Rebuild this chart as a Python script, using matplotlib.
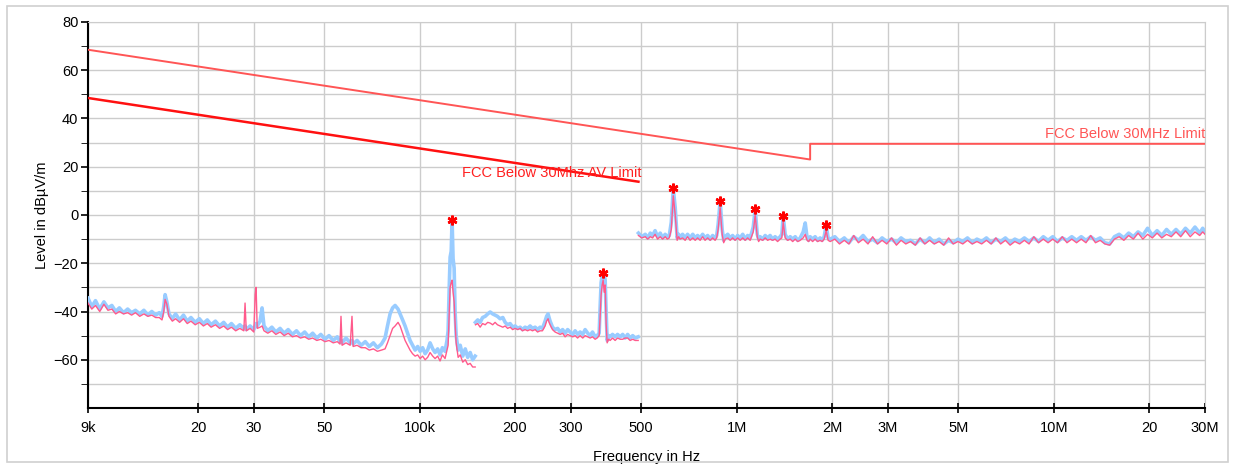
import numpy as np
import matplotlib.pyplot as plt
from matplotlib.patches import Rectangle
from matplotlib.ticker import NullLocator

plt.rcParams['font.family'] = ['Liberation Sans', 'DejaVu Sans']

# --- limit lines (frequency in kHz, level in dBuV/m) ---
qp_freq = [9, 490, 1705, 1705, 30000]
qp_level = [68.5, 33.8, 23.0, 29.5, 29.5]
av_freq = [9, 490]
av_level = [48.5, 13.8]

# --- measured traces, 9 kHz - 150 kHz ---
f1 = [9.0, 9.25, 9.5, 9.8, 10.1, 10.4, 10.7, 11.0, 11.3, 11.65,
      12.0, 12.35, 12.7, 13.1, 13.5, 13.9, 14.3, 14.7, 15.1, 15.4,
      15.6, 15.75, 15.95, 16.2, 16.6, 17.0, 17.5, 18.0, 18.5, 19.0,
      19.6, 20.2, 20.8, 21.4, 22.0, 22.7, 23.4, 24.1, 24.8, 25.5,
      26.3, 27.1, 27.9, 28.15, 28.4, 29.2, 30.0, 30.3, 30.5, 30.75,
      31.4, 31.85, 32.3, 33.2, 34.2, 35.2, 36.3, 37.4, 38.5, 39.7,
      40.9, 42.1, 43.4, 44.7, 46.0, 47.4, 48.8, 50.3, 51.8, 53.4,
      55.0, 56.1, 56.5, 56.95, 58.6, 60.4, 61.2, 61.7, 63.5, 65.4,
      67.4, 69.4, 71.5, 73.6, 75.8, 77.8, 79.2, 80.7, 82.2, 83.7,
      85.5, 86.8, 88.4, 90.0, 91.6, 93.3, 95.0, 96.8, 98.6, 100.4,
      102.2, 104.1, 106.0, 107.9, 110.0, 111.9, 114.0, 116.0, 118.0, 120.3,
      122.0, 123.0, 124.0, 124.8, 125.8, 126.6, 127.5, 128.5, 129.4, 130.4,
      132.3, 134.3, 136.8, 139.3, 141.8, 144.4, 147.0, 149.7]
blue1 = [-34.5, -38, -35.5, -39, -36, -38.5, -37.5, -40, -38.5, -40.5,
         -39, -40.5, -39.5, -41, -39.5, -41.5, -40, -41.5, -40.5, -42,
         -38, -33, -36, -41, -43, -41, -43.5, -41.5, -44, -42.5,
         -44.5, -43, -45, -43.5, -45.5, -44, -46, -44.5, -46.5, -45,
         -47, -45.5, -47, -46, -47.5, -46, -47.5, -46, -45, -46,
         -44, -38.5, -46, -48, -46.5, -48.5, -47, -49, -47.5, -49.5,
         -48, -50, -48.5, -50.5, -49, -51, -49.5, -51.5, -50, -52,
         -50.5, -52.5, -52, -53, -51, -53, -52, -53.5, -52, -54,
         -52.5, -54.5, -53, -55, -53.5, -51, -46, -41, -38.5, -37.5,
         -39, -41, -43.5, -46, -49, -52, -54, -56, -54.5, -56.5,
         -55, -57.5, -56, -53, -55.5, -57, -55.5, -58, -55, -56.5,
         -52, -48, -30, -17.5, -15, -2, -18, -22, -40, -50,
         -56, -54, -58.5, -55.5, -59, -57, -60, -58.5]
pink1 = [-36.5, -39, -37.5, -40, -37, -39.5, -39, -41, -40, -41,
         -40.5, -41.5, -40.5, -42, -41, -42, -41.5, -42.5, -42.5, -43.5,
         -40, -35, -37, -42, -44, -43, -44.5, -43, -45, -44,
         -45.5, -44.5, -46, -45, -46.5, -45.5, -47, -46, -47.5, -46.5,
         -48, -47, -48, -36.5, -48, -47, -48.5, -33, -30, -47,
         -46.5, -46, -48, -49, -48, -49.5, -48.5, -50, -49, -50.5,
         -50, -51, -50.5, -51.5, -51, -52, -51.5, -52.5, -52, -53,
         -52.5, -53.5, -42, -54, -53, -54, -42, -54.5, -54, -55,
         -55, -56, -55.5, -56.5, -56, -55.5, -53, -50, -47, -46,
         -44.5, -46, -49, -52, -54, -56, -57.5, -58.5, -58, -59.5,
         -58.5, -60, -59, -57, -58.5, -59.5, -58.5, -60.5, -58, -59.5,
         -56, -54, -40, -30, -28, -27, -32, -36, -45, -53,
         -59, -58, -61, -60, -62, -61.5, -63, -63]

# --- measured traces, 150 kHz - 490 kHz ---
f2 = [150, 152.5, 155.2, 158, 161, 164, 166.9, 170, 173, 176,
      179.4, 183, 186.1, 189.5, 193, 196.5, 200.1, 204, 207.5, 211,
      215.1, 219, 223.1, 227, 231.4, 235.5, 239.9, 244, 248.8, 251.5,
      254.2, 256, 258, 262.5, 267.5, 272.5, 277.5, 282.5, 287.7, 293,
      298.3, 304, 309.4, 315, 320.8, 327, 332.7, 339, 345, 351,
      357.8, 363, 368.4, 371, 373.7, 376.5, 379.2, 382, 384.8, 387.5,
      390.4, 394.5, 399, 406, 413.7, 421, 429.1, 437, 444.9, 453,
      461.3, 470, 478.4, 489]
blue2 = [-44.5, -43.5, -44.5, -42.5, -42, -41, -40.2, -41, -41.5, -42,
         -43, -42.5, -44.5, -45.5, -45, -46.5, -46, -47, -46.5, -47.5,
         -46.5, -47, -46, -47, -46.5, -47.5, -46.5, -47, -44, -42,
         -41, -42.5, -44, -46.5, -47.5, -47, -48.5, -47.5, -49, -47.5,
         -48.5, -49.5, -48, -49.5, -48.5, -49.5, -47.5, -49, -50, -48.5,
         -50.5, -50, -49, -38, -28, -25, -24, -24.5, -27, -40,
         -52, -50, -50.5, -49.5, -50.5, -49.5, -50.5, -49.5, -51, -49.5,
         -51, -50, -51, -50.5]
pink2 = [-45.5, -45, -46.5, -45, -45.5, -44.5, -44.8, -45.5, -44.5, -45.5,
         -46, -46.5, -46, -47, -46.5, -47.5, -47, -47.5, -47, -48,
         -47.5, -48, -47.5, -48, -47.5, -48.5, -48, -48, -46, -44,
         -43, -44.5, -45.5, -47.5, -48.5, -49, -49.5, -49, -50.5, -49.5,
         -50, -50.5, -50, -51, -50, -51, -50, -50.5, -51, -50.5,
         -51.5, -51, -50, -42, -33, -29, -27, -32, -29, -45,
         -53, -51.5, -52, -51, -52, -51, -51.5, -51.5, -51, -51,
         -52, -51.5, -52, -52]

# --- measured traces, 490 kHz - 30 MHz ---
f3 = [490, 502, 515, 524, 534, 543, 553, 563, 574, 584,
      595, 604, 613, 622, 631, 640, 649, 656, 663, 675,
      688, 700, 713, 727, 740, 753, 767, 781, 795, 810,
      825, 840, 855, 865, 874, 887, 900, 910, 920, 937,
      954, 971, 989, 1007, 1026, 1045, 1064, 1083, 1103, 1128,
      1144, 1161, 1173, 1186, 1208, 1230, 1252, 1275, 1298, 1322,
      1346, 1371, 1388, 1402, 1422, 1448, 1475, 1502, 1530, 1558,
      1586, 1621, 1645, 1668, 1686, 1705, 1736, 1768, 1800, 1833,
      1860, 1888, 1915, 1943, 1972,
      2040, 2110, 2185, 2260, 2340, 2420, 2505, 2595, 2685, 2780,
      2875, 2975, 3080, 3190, 3300, 3415, 3535, 3660, 3790, 3920,
      4060, 4200, 4350, 4500, 4660, 4820, 4990, 5165, 5345, 5535,
      5725, 5925, 6135, 6350, 6570, 6800, 7040, 7285, 7540, 7805,
      8080, 8360, 8655, 8955, 9270, 9595, 9930, 10280, 10640, 11010,
      11400, 11800, 12210, 12640, 13080, 13540, 14010, 14500, 15010, 15540,
      16080, 16640, 17230, 17830, 18450, 19100, 19770, 20460, 21180, 21920,
      22690, 23480, 24300, 25150, 26030, 26950, 27890, 28860, 29500, 30000]
blue3 = [-7.5, -9, -8, -9.5, -7.5, -8.5, -6.5, -9, -7.5, -9.5,
         -8, -9, -8.5, -3, 11, 3, -9.5, -8, -9.5, -8,
         -9.5, -8, -9.5, -8, -9.5, -8.5, -9.5, -8, -9.5, -8.5,
         -10, -8.5, -9.5, -8.5, -4, 5.8, -6, -10.5, -9, -8,
         -9.5, -8.5, -10, -8.5, -9.5, -8, -10, -8.5, -9.5, -5,
         2.5, -8, -10, -9, -10, -8.5, -9.5, -8.5, -10, -9,
         -10, -9, -8, -0.4, -8, -10, -9, -10, -9, -10.5,
         -9.5, -7, -3.3, -9.5, -10.5, -9, -10, -9, -10.5, -9.5,
         -10.5, -9, -4.2, -9.5, -10,
         -9, -11, -9.5, -11.5, -9, -10.5, -8.5, -11, -10, -11.5,
         -9.5, -11, -10, -11.5, -9.5, -11, -10.5, -12, -10, -11.5,
         -9.5, -11.5, -10, -12, -10.5, -11.5, -10, -11, -9.5, -11.5,
         -10, -11, -9.5, -11.5, -10, -11, -9.5, -11.5, -10, -11,
         -9.5, -11, -9.5, -11, -9, -10.5, -9, -11, -9.5, -10.5,
         -9, -10.5, -9, -10.5, -9, -10.5, -9.5, -11.5, -12, -9,
         -8, -9.5, -7.5, -9, -7, -8.5, -5.5, -8.5, -6.5, -8.5,
         -6, -8, -6, -8, -5.5, -7.5, -5, -7.5, -5.5, -7]
pink3 = [-8.5, -9.5, -9, -10, -9, -9.5, -8, -10, -9, -10,
         -9, -10, -9.5, -6, 8, 0, -10.5, -9, -10, -9.5,
         -10.5, -9, -10.5, -9.5, -10.5, -9.5, -10.5, -9, -10.5, -9.5,
         -10.5, -9.5, -10.5, -9.5, -6, 3, -8, -11.5, -10, -9.5,
         -10.5, -9.5, -10.5, -9.5, -10.5, -9.5, -10.5, -9.5, -10.5, -7,
         0, -9, -11, -10, -10.5, -9.5, -10.5, -10, -10.5, -10,
         -11, -10, -9.5, -3, -9.5, -10.5, -10, -11, -10, -11,
         -10.5, -9.5, -8, -10.5, -11, -10, -11, -10, -11, -10.5,
         -11, -10, -6.5, -10.5, -11,
         -10, -12, -10.5, -12, -8.5, -11.5, -10, -12, -9, -12,
         -10.5, -12, -9.5, -12.5, -10.5, -12, -11, -12.5, -9.5, -12,
         -10.5, -12, -11, -12.5, -9.5, -12, -11, -12, -10.5, -12,
         -11, -12, -10.5, -12, -9.5, -12, -10.5, -12.5, -11, -12,
         -10.5, -12, -9, -11.5, -10, -11.5, -10, -11.5, -9, -11.5,
         -10, -11.5, -10, -11.5, -8.5, -11.5, -10.5, -12, -12.5, -10,
         -9, -10.5, -8.5, -10, -7.5, -10, -8, -9.5, -7.5, -9.5,
         -8, -9, -7, -9, -6.5, -9, -7, -8.5, -7, -8]

# --- peak markers ---
peak_freq = [126.6, 379.2, 631, 887, 1144, 1402, 1915]
peak_level = [-2, -24, 11, 5.8, 2.5, -0.4, -4.2]

blue = '#99ccff'
pink = '#ff5a8c'

fig = plt.figure(figsize=(12.33, 4.68), dpi=100)
ax = fig.add_axes([0.0714, 0.1282, 0.9059, 0.8248])

for f, b, p in [(f1, blue1, pink1), (f2, blue2, pink2), (f3, blue3, pink3)]:
    fhz = np.array(f) * 1e3
    ax.plot(fhz, b, color=blue, lw=2.6, zorder=3)
    ax.plot(fhz, p, color=pink, lw=1.0, zorder=4)

ax.plot(np.array(qp_freq) * 1e3, qp_level, color='#ff5555', lw=1.4, zorder=5)
ax.plot(np.array(av_freq) * 1e3, av_level, color='#ff1010', lw=1.8, zorder=5)
# asterisk-shaped peak markers
ax.plot(np.array(peak_freq) * 1e3, peak_level, ls='none', marker=(6, 2, 0),
        color='red', ms=7, mew=1.8, zorder=6)

ax.text(136e3, 17.5, 'FCC Below 30Mhz AV Limit', color='#ff2020',
        fontsize=10.5, va='center', ha='left', zorder=7)
ax.text(30e6, 33.6, 'FCC Below 30MHz Limit', color='#ff5555',
        fontsize=10.5, va='center', ha='right', zorder=7)

ax.set_xscale('log')
ax.set_xlim(9e3, 30e6)
ax.set_ylim(-80, 80)

xt = [9e3, 20e3, 30e3, 50e3, 100e3, 200e3, 300e3, 500e3,
      1e6, 2e6, 3e6, 5e6, 10e6, 20e6, 30e6]
xl = ['9k', '20', '30', '50', '100k', '200', '300', '500',
      '1M', '2M', '3M', '5M', '10M', '20', '30M']
ax.set_xticks(xt, xl)
ax.xaxis.set_minor_locator(NullLocator())
ax.set_yticks([-60, -40, -20, 0, 20, 40, 60, 80])
ax.set_yticks(np.arange(-70, 80, 20), minor=True)

ax.grid(True, which='both', color='#cccccc', lw=1.0, zorder=0)
ax.set_axisbelow(True)
ax.tick_params(axis='both', labelsize=10.5, width=1.2)
ax.tick_params(axis='x', direction='inout', length=7, pad=6)
ax.tick_params(axis='y', which='both', direction='out', length=5, pad=2)

for s in ['top', 'right']:
    ax.spines[s].set_color('#cccccc')
for s in ['left', 'bottom']:
    ax.spines[s].set_linewidth(1.5)

ax.set_xlabel('Frequency in Hz', fontsize=10.5)
ax.set_ylabel('Level in dBµV/m', fontsize=10.5)
ax.xaxis.set_label_coords(0.5, -0.11)
ax.yaxis.set_label_coords(-0.035, 0.5)

fig.patches.append(Rectangle((7 / 1233, 6 / 468), 1221 / 1233, 456 / 468,
                             transform=fig.transFigure, fill=False,
                             ec='#d0d0d0', lw=1.2))

fig.savefig('out.png', dpi=100)
